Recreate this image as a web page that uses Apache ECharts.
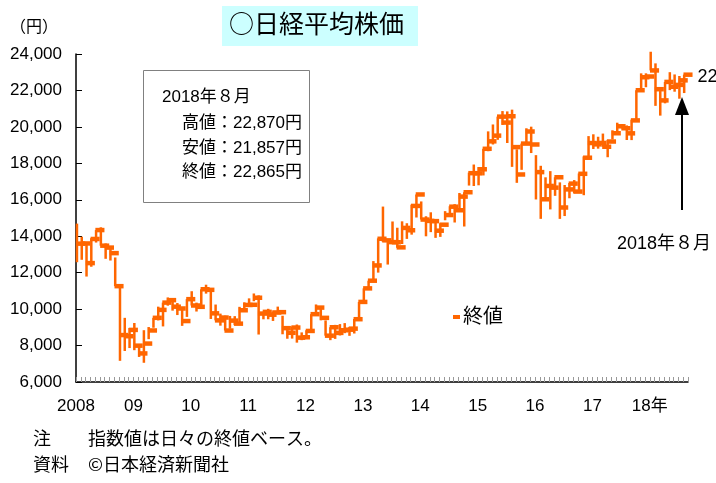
<!DOCTYPE html>
<html>
<head>
<meta charset="utf-8">
<script src="https://cdn.jsdelivr.net/npm/echarts@6/dist/echarts.min.js"></script>
<style>
  html, body { margin: 0; padding: 0; background: #fff; }
  #main { width: 716px; height: 483px; }
</style>
</head>
<body>
<div id="main"></div>
<script>
// 月次 2008年1月〜2018年8月（日々の終値ベース）
var yearLabels = ['2008', '09', '10', '11', '12', '13', '14', '15', '16', '17', '18年'];

var highs = [
  14691, 13973, 13523, 13894, 14338, 14489, 13603, 13430, 12834, 11368, 9521, 8964,
  9239, 8076, 8843, 9016, 9522, 10135, 10356, 10639, 10444, 10333, 10062, 10546,
  10982, 10355, 11089, 11339, 11057, 10251, 9753, 9642, 9626, 9615, 10125, 10371,
  10590, 10858, 10754, 9849, 10017, 9868, 10137, 9637, 9041, 9050, 9155, 8722,
  8841, 9723, 10255, 10109, 9380, 9006, 9136, 9178, 9232, 9015, 9460, 10395,
  11138, 11559, 12635, 13884, 15627, 13677, 14809, 14466, 14817, 14713, 15727, 16291,
  15909, 15096, 15313, 14791, 14714, 15376, 15646, 15759, 16374, 16414, 17490, 17935,
  17795, 18798, 19754, 20133, 20563, 20868, 20850, 20946, 18770, 19083, 19924, 20012,
  18450, 17865, 17233, 17572, 17235, 16955, 16810, 16926, 17081, 17446, 18381, 19494,
  19594, 19459, 19633, 19289, 19814, 20230, 20150, 20080, 20397, 22012, 22938, 22939,
  24124, 23486, 21968, 22468, 23002, 22878, 22794, 22870
];
var lows = [
  12573, 12707, 11787, 12325, 13653, 13481, 12760, 12666, 11259, 7162, 7703, 7863,
  7745, 7376, 7055, 8351, 8977, 9379, 9050, 10188, 9917, 9674, 9081, 9572,
  10198, 9867, 10172, 10850, 9459, 9382, 9091, 8824, 8927, 9121, 9159, 9988,
  10237, 10432, 8605, 9441, 9443, 9351, 9797, 8619, 8374, 8382, 8160, 8296,
  8378, 8809, 9637, 9388, 8542, 8296, 8366, 8555, 8680, 8534, 8661, 9432,
  10486, 11046, 11606, 12003, 13694, 12445, 13613, 13365, 13573, 13853, 14086, 15027,
  14914, 13996, 14224, 13910, 13964, 14876, 15070, 14753, 15476, 14533, 16780, 16755,
  16795, 17335, 18665, 19034, 19291, 20109, 19115, 17806, 16930, 17644, 19117, 18565,
  16017, 14953, 16085, 15471, 16216, 14952, 15107, 16083, 16359, 16449, 16251, 18274,
  18788, 18805, 18909, 18335, 19310, 19738, 19925, 19280, 19275, 20400, 21972, 22177,
  23098, 21154, 20618, 21292, 22018, 21931, 21546, 21857
];
var closes = [
  13592, 13603, 12525, 13849, 14338, 13481, 13376, 13072, 11259, 8576, 8512, 8859,
  7994, 7568, 8109, 8828, 9522, 9958, 10356, 10492, 10133, 10034, 9345, 10546,
  10198, 10126, 11089, 11057, 9768, 9382, 9537, 8824, 9369, 9202, 9937, 10228,
  10237, 10624, 9755, 9849, 9693, 9816, 9833, 8955, 8700, 8988, 8434, 8455,
  8802, 9723, 10083, 9520, 8542, 9006, 8695, 8839, 8870, 8928, 9446, 10395,
  11138, 11559, 12397, 13860, 13774, 13677, 13668, 13389, 14456, 14327, 15662, 16291,
  14914, 14841, 14828, 14304, 14632, 15162, 15621, 15425, 16174, 16414, 17460, 17451,
  17674, 18798, 19207, 19520, 20563, 20236, 20585, 18890, 17388, 19083, 19747, 19034,
  17518, 16027, 16759, 16666, 17235, 15576, 16569, 16887, 16450, 17425, 18308, 19114,
  19041, 19119, 18909, 19197, 19651, 20033, 19925, 19646, 20356, 22012, 22725, 22765,
  23098, 22068, 21454, 22468, 22202, 22305, 22554, 22865
];

var infoLines = ['2018年８月', '高値：22,870円', '安値：21,857円', '終値：22,865円'];

var ORANGE = '#ff6600';
var JP = '"Liberation Sans", "Noto Sans CJK JP", sans-serif';

var chart = echarts.init(document.getElementById('main'));

var seriesData = closes.map(function (c, i) {
  return [i, highs[i], lows[i], c];
});

function fmt(v) {
  return String(v).replace(/\B(?=(\d{3})+(?!\d))/g, ',');
}

function renderItem(params, api) {
  var i = api.value(0);
  var top = api.coord([i + 0.2, api.value(1)]);
  var bot = api.coord([i + 0.2, api.value(2)]);
  var c0 = api.coord([i + 0.05, api.value(3)]);
  var c1 = api.coord([i + 1.95, api.value(3)]);
  var children = [
    {
      type: 'line',
      shape: { x1: top[0], y1: top[1], x2: bot[0], y2: bot[1] },
      style: { stroke: ORANGE, lineWidth: 2.5 }
    },
    {
      type: 'rect',
      shape: { x: c0[0], y: c0[1] - 2.25, width: c1[0] - c0[0], height: 4.5 },
      style: { fill: ORANGE }
    }
  ];
  if (params.dataIndex === closes.length - 1) {
    var t = api.coord([i + 3, api.value(3)]);
    children.push({
      type: 'text',
      x: t[0], y: t[1] + 2,
      style: {
        text: fmt(api.value(3)), fill: '#000',
        font: '18px ' + JP, align: 'left', verticalAlign: 'middle'
      }
    });
  }
  return { type: 'group', children: children };
}

var option = {
  animation: false,
  backgroundColor: '#fff',
  grid: { left: 76, right: 28, top: 54, bottom: 101 },
  legend: {
    left: 448, top: 302,
    icon: 'rect', itemWidth: 7, itemHeight: 4, itemGap: 0,
    textStyle: { fontSize: 20, color: '#000', fontFamily: JP, padding: [0, 0, 0, -2] },
    data: ['終値']
  },
  xAxis: {
    type: 'value',
    min: 0, max: closes.length, interval: 1,
    axisLine: { lineStyle: { color: '#000', width: 1.5 } },
    axisTick: { inside: true, length: 5, lineStyle: { color: '#999', width: 1 } },
    splitLine: { show: false },
    axisLabel: {
      margin: 16, color: '#000', fontSize: 17, fontFamily: JP,
      formatter: function (v) {
        return v % 12 === 0 ? (yearLabels[v / 12] || '') : '';
      }
    }
  },
  yAxis: {
    type: 'value',
    min: 6000, max: 24000, interval: 2000,
    axisLine: { show: true, lineStyle: { color: '#000', width: 1.5 } },
    axisTick: { show: true, inside: true, length: 6, lineStyle: { color: '#000' } },
    splitLine: { show: false },
    axisLabel: {
      margin: 14, color: '#000', fontSize: 17, fontFamily: JP,
      formatter: function (v) { return fmt(v); }
    }
  },
  series: [{
    name: '終値',
    type: 'custom',
    renderItem: renderItem,
    clip: false,
    itemStyle: { color: ORANGE },
    encode: { x: 0, y: [1, 2, 3] },
    data: seriesData
  }],
  graphic: [
    {
      type: 'rect', left: 222, top: 6, z: 10,
      shape: { width: 196, height: 40 },
      style: { fill: '#ccffff' }
    },
    {
      type: 'text', left: 229, top: 11, z: 11,
      style: { text: '○日経平均株価', font: '25px "Noto Sans CJK JP", sans-serif', fill: '#000' }
    },
    {
      type: 'text', left: 10, top: 18,
      style: { text: '（円）', font: '16px "Noto Sans CJK JP", sans-serif', fill: '#000' }
    },
    {
      type: 'rect', left: 143, top: 70, z: 10,
      shape: { width: 166, height: 132 },
      style: { fill: '#fff', stroke: '#808080', lineWidth: 1 }
    },
    {
      type: 'text', left: 162, top: 89, z: 11,
      style: { text: infoLines[0], font: '17px ' + JP, fill: '#000' }
    },
    {
      type: 'text', right: 716 - 302, top: 115, z: 11,
      style: { text: infoLines[1], font: '17px ' + JP, fill: '#000', align: 'right' }
    },
    {
      type: 'text', right: 716 - 302, top: 140, z: 11,
      style: { text: infoLines[2], font: '17px ' + JP, fill: '#000', align: 'right' }
    },
    {
      type: 'text', right: 716 - 302, top: 164, z: 11,
      style: { text: infoLines[3], font: '17px ' + JP, fill: '#000', align: 'right' }
    },
    {
      type: 'line', z: 11,
      shape: { x1: 682, y1: 210, x2: 682, y2: 110 },
      style: { stroke: '#000', lineWidth: 2 }
    },
    {
      type: 'polygon', z: 11,
      shape: { points: [[682, 97], [675, 115], [689, 115]] },
      style: { fill: '#000' }
    },
    {
      type: 'text', left: 617, top: 235,
      style: { text: '2018年８月', font: '18px ' + JP, fill: '#000' }
    },
    {
      type: 'text', left: 33, top: 429,
      style: { text: '注', font: '18px "Noto Sans CJK JP", sans-serif', fill: '#000' }
    },
    {
      type: 'text', left: 88, top: 429,
      style: { text: '指数値は日々の終値ベース。', font: '18px "Noto Sans CJK JP", sans-serif', fill: '#000' }
    },
    {
      type: 'text', left: 33, top: 455,
      style: { text: '資料', font: '18px "Noto Sans CJK JP", sans-serif', fill: '#000' }
    },
    {
      type: 'text', left: 88, top: 455,
      style: { text: '©日本経済新聞社', font: '18px "Noto Sans CJK JP", sans-serif', fill: '#000' }
    }
  ]
};

chart.setOption(option);
window.addEventListener('resize', function () {
  chart.resize();
});
</script>
</body>
</html>
